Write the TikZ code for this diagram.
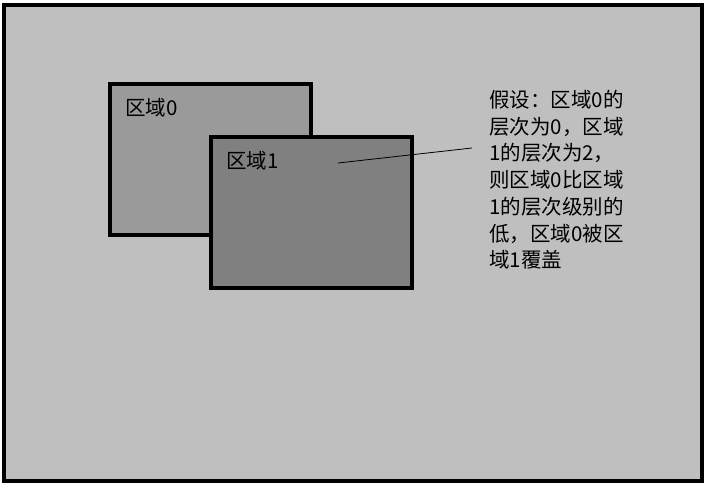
\documentclass[tikz,border=0pt]{standalone}
\usepackage{fontspec}
\setmainfont{Noto Sans CJK SC}
\usetikzlibrary{calc}
\usetikzlibrary{positioning}

\begin{document}
\begin{tikzpicture}[x=1pt, y=-1pt,
        region/.style={rectangle, draw=black, line width=4pt, outer sep=0pt, minimum width=201pt, minimum height=151pt, anchor=north west},
        label/.style={inner sep=0pt, anchor=west, font=\fontsize{20.5}{24}\selectfont}]
            \useasboundingbox[fill=white] (0, 0) rectangle (704, 483);
            \draw[line width=4pt, fill=black!25] (4, 5) rectangle (702, 481);
            \def\R{110/84/9a9a9a/0, 211/137/808080/1}
            \foreach \x/\y/\c/\i in \R
            {
                \definecolor{fill\i}{HTML}{\c}
                \node[region, fill=fill\i] (region\i) at (\x, \y) {};
                \node[label] (name\i) at ($(region\i.north west) + (15, 24)$) {区域\i};
            }
            \node[inner sep=0pt, anchor=north west, align=left, font=\fontsize{20.5}{26.7}\selectfont] (note) at (489, 90)
                {假设：区域0的\\层次为0，区域\\1的层次为2，\\则区域0比区域\\1的层次级别的\\低，区域0被区\\域1覆盖};
            \coordinate (from) at (338, 163);
            \coordinate (to) at (472, 148);
            \draw[line width=0.8pt] (from) -- (to);
        \end{tikzpicture}
\end{document}
